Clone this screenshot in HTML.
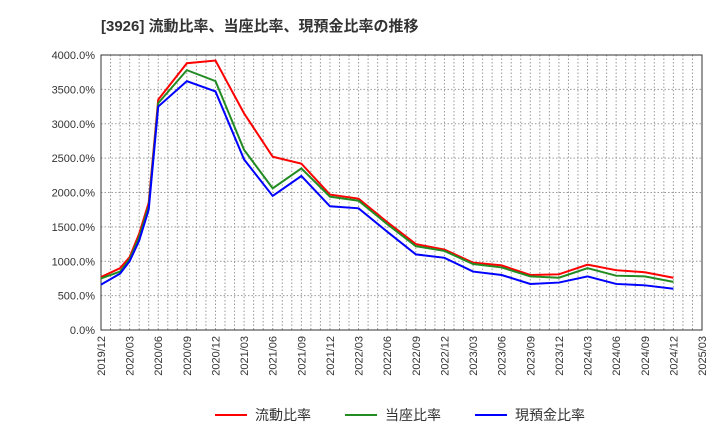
<!DOCTYPE html>
<html><head><meta charset="utf-8"><style>
body{margin:0;background:#fff;font-family:"Liberation Sans","Noto Sans CJK JP",sans-serif}
</style></head><body>
<svg id="c" width="720" height="440" xmlns="http://www.w3.org/2000/svg">
<text x="101" y="31" font-size="15" font-weight="bold" fill="#333" font-family="Liberation Sans, Noto Sans CJK JP, sans-serif">[3926]  流動比率、当座比率、現預金比率の推移</text>
</svg>
<script>
const months=["2019/12","2020/02","2020/03","2020/04","2020/05","2020/06","2020/09","2020/12","2021/03","2021/06","2021/09","2021/12","2022/03","2022/06","2022/09","2022/12","2023/03","2023/06","2023/09","2023/12","2024/03","2024/06","2024/09","2024/12"];
const current=[770,900,1060,1400,1850,3350,3880,3920,3150,2520,2420,1970,1910,1570,1250,1170,980,940,800,810,950,870,840,760];
const quick=[750,850,1030,1350,1800,3300,3780,3620,2620,2060,2350,1940,1880,1540,1220,1150,960,910,780,760,900,790,780,700];
const cash=[660,820,1000,1300,1750,3250,3620,3470,2480,1950,2240,1800,1770,1430,1100,1050,850,800,670,690,780,670,650,600];
const yTicks=[0,500,1000,1500,2000,2500,3000,3500,4000];
const xTicks=["2019/12","2020/03","2020/06","2020/09","2020/12","2021/03","2021/06","2021/09","2021/12","2022/03","2022/06","2022/09","2022/12","2023/03","2023/06","2023/09","2023/12","2024/03","2024/06","2024/09","2024/12","2025/03"];
const L=101,R=702,T=55,B=330,NS="http://www.w3.org/2000/svg",svg=document.getElementById('c');
function mi(s){const[a,b]=s.split('/').map(Number);return (a-2019)*12+b-12;}
const x=s=>L+mi(s)*(R-L)/63, y=v=>B-v*(B-T)/4000;
function el(t,a){const e=document.createElementNS(NS,t);for(const k in a)e.setAttribute(k,a[k]);svg.appendChild(e);return e;}
for(let m=1;m<63;m++){const l=el('line',{x1:L+m*(R-L)/63,x2:L+m*(R-L)/63,y1:T,y2:B,stroke:'#999','stroke-dasharray':'1.5,2','stroke-width':1});

}
yTicks.forEach(v=>{const l=el('line',{x1:L,x2:R,y1:y(v),y2:y(v),stroke:'#999','stroke-dasharray':'1.5,2'});


const t=el('text',{x:L-6,y:y(v)+4,'text-anchor':'end','font-size':11,fill:'#333'});t.textContent=v.toFixed(1)+'%';

});
xTicks.forEach(s=>{const t=el('text',{transform:`translate(${x(s)+4},${B+6}) rotate(-90)`,'text-anchor':'end','font-size':11,fill:'#333'});t.textContent=s;

});
const fr=el('rect',{x:L,y:T,width:R-L,height:B-T,fill:'none',stroke:'#333','stroke-width':1});


[[current,'#f00','current-ratio-line'],[quick,'#228b22','quick-ratio-line'],[cash,'#00f','cash-ratio-line']].forEach(([d,c,n])=>{
const p=el('polyline',{points:d.map((v,i)=>x(months[i])+','+y(v)).join(' '),fill:'none',stroke:c,'stroke-width':2});

});
[['流動比率','#f00',215],['当座比率','#228b22',345],['現預金比率','#00f',475]].forEach(([t,c,lx])=>{
const l=el('line',{x1:lx,x2:lx+32,y1:415,y2:415,stroke:c,'stroke-width':2});


const tx=el('text',{x:lx+40,y:420,'font-size':14,fill:'#333'});tx.textContent=t;

});
</script>
</body></html>
